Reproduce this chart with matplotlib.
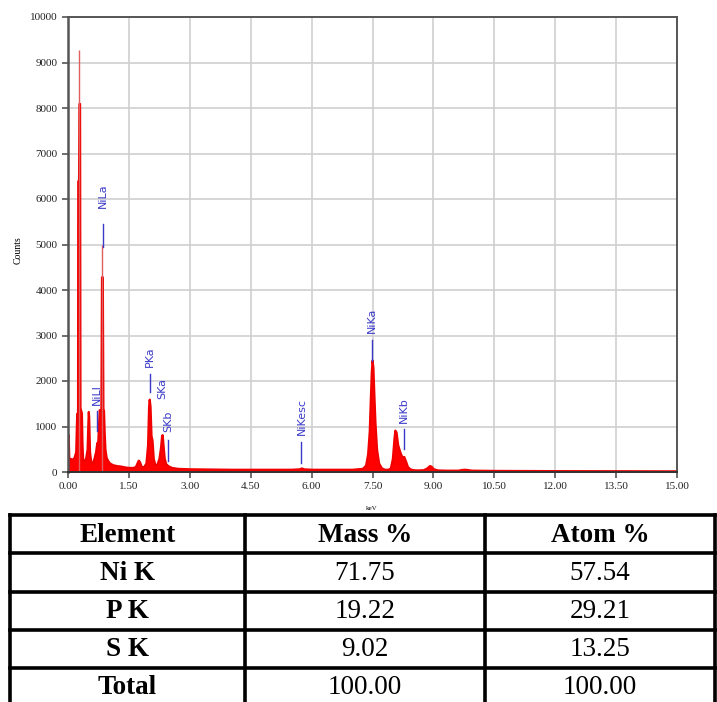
import matplotlib
matplotlib.use("Agg")
import matplotlib.pyplot as plt

# EDS spectrum (keV, counts)
energy = [0.00, 0.005, 0.02, 0.05, 0.10, 0.15, 0.19, 0.21, 0.225, 0.235, 0.24, 0.26,
          0.27, 0.285, 0.295, 0.305, 0.33, 0.345, 0.36, 0.39, 0.43, 0.47, 0.49,
          0.50, 0.51, 0.53, 0.56, 0.60, 0.64, 0.68, 0.71, 0.73, 0.75, 0.77, 0.79,
          0.81, 0.825, 0.835, 0.845, 0.86, 0.875, 0.89, 0.91, 0.94, 0.98, 1.02,
          1.10, 1.20, 1.30, 1.40, 1.50, 1.60, 1.66, 1.70, 1.73, 1.76, 1.80, 1.86,
          1.92, 1.96, 1.985, 2.00, 2.02, 2.045, 2.07, 2.10, 2.14, 2.19, 2.24, 2.28,
          2.305, 2.32, 2.34, 2.37, 2.41, 2.46, 2.55, 2.70, 3.00, 3.50, 4.00, 4.50,
          5.00, 5.50, 5.70, 5.75, 5.80, 6.00, 6.50, 7.00, 7.25, 7.33, 7.38, 7.42,
          7.45, 7.47, 7.49, 7.51, 7.53, 7.56, 7.60, 7.65, 7.72, 7.80, 7.88, 7.94,
          7.99, 8.03, 8.05, 8.08, 8.12, 8.17, 8.22, 8.27, 8.31, 8.36, 8.42, 8.50,
          8.60, 8.75, 8.84, 8.90, 8.94, 9.00, 9.10, 9.30, 9.60, 9.70, 9.76, 9.82,
          9.95, 10.50, 12.00, 13.50, 15.00]
counts = [800, 820, 260, 300, 280, 320, 450, 1150, 1300, 1100, 6400, 6400,
          8100, 8100, 1380, 1380, 1300, 600, 300, 250, 280, 500, 1100,
          1330, 1200, 450, 220, 200, 300, 450, 650, 600, 1000, 1370, 1300,
          1400, 4290, 4290, 4290, 1400, 1350, 900, 500, 320, 250, 200,
          160, 140, 130, 110, 100, 100, 120, 200, 260, 230, 130, 110,
          200, 600, 1450, 1600, 1450, 800, 700, 300, 160, 170, 300, 550,
          800, 820, 600, 300, 180, 140, 100, 80, 70, 65, 60, 60,
          60, 60, 70, 90, 70, 60, 60, 60, 80, 150, 400, 900,
          1700, 2200, 2460, 2300, 1800, 1100, 500, 200, 90, 60, 60, 90,
          300, 750, 920, 880, 600, 450, 340, 340, 250, 120, 70, 50,
          45, 50, 90, 140, 130, 70, 45, 40, 40, 55, 60, 55,
          40, 35, 30, 28, 25]

# faint single-channel tips above the strongest peaks
tip_kev = [0.28, 0.845]
tip_counts = [9270, 4990]

# line markers
line_names = ["NiLa", "NiLl", "PKa", "SKa", "SKb", "NiKesc", "NiKa", "NiKb"]
line_kev = [0.85, 0.72, 2.01, 2.31, 2.46, 5.75, 7.48, 8.27]
line_mark = [(4950, 5450), (900, 1350), (1750, 2150), None, (250, 700),
             (200, 650), (2450, 2900), (500, 950)]
label_base = [5800, 1480, 2300, 1600, 880, 820, 3050, 1080]

# table
tbl_header = ["Element", "Mass %", "Atom %"]
tbl_element = ["Ni K", "P K", "S K", "Total"]
tbl_mass = ["71.75", "19.22", "9.02", "100.00"]
tbl_atom = ["57.54", "29.21", "13.25", "100.00"]

W, H = 717, 702
fig = plt.figure(figsize=(W / 100, H / 100), dpi=100)
ax = fig.add_axes([68 / W, 1 - 472 / H, (677 - 68) / W, (472 - 17) / H])

ax.fill_between(energy, counts, 0, color="#ff0000", linewidth=1.6, edgecolor="#f00000")
ax.vlines(tip_kev, 0, tip_counts, color="#e06060", linewidth=1.0)

ax.set_xlim(0, 15)
ax.set_ylim(0, 10000)
ax.set_xticks([i * 1.5 for i in range(11)])
ax.set_xticklabels(["%.2f" % (i * 1.5) for i in range(11)])
ax.set_yticks(range(0, 10001, 1000))
ax.grid(True, color="#cfcfcf", linewidth=1.2)
ax.set_axisbelow(True)
for s in ["left", "top", "right"]:
    ax.spines[s].set_color("#555555")
ax.spines["left"].set_linewidth(1.8)
ax.spines["top"].set_linewidth(1.4)
ax.spines["right"].set_linewidth(1.4)
ax.spines["bottom"].set_color("#333333")
ax.spines["bottom"].set_linewidth(1.4)
ax.tick_params(length=4, width=1.2, color="#555555", labelcolor="#222222")
for lb in ax.get_xticklabels() + ax.get_yticklabels():
    lb.set_family("Liberation Serif")
    lb.set_fontsize(8)

blue = "#3a3ac8"
for name, e, mk, lb in zip(line_names, line_kev, line_mark, label_base):
    if mk is not None:
        ax.plot([e, e], mk, color=blue, linewidth=1.0)
    ax.text(e, lb, name, rotation=90, ha="center", va="bottom", color=blue,
            fontsize=8, family="DejaVu Sans")

fig.text(18 / W, 1 - 250 / H, "Counts", rotation=90, ha="center", va="center",
         fontsize=7, family="Liberation Serif")
fig.text(372 / W, 1 - 508 / H, "keV", ha="center", va="center", fontsize=5,
         family="Liberation Serif")

# table drawn in pixel coordinates on an overlay axes
tb = fig.add_axes([0, 0, 1, 1])
tb.set_xlim(0, W)
tb.set_ylim(H, 0)
tb.axis("off")
col_x = [10, 245, 485, 715]
row_y = [515, 553, 592, 630, 668, 705]
for y in row_y:
    tb.plot([col_x[0], col_x[-1]], [y, y], color="black", linewidth=2.6,
            solid_capstyle="projecting")
for x in col_x:
    tb.plot([x, x], [row_y[0], row_y[-1]], color="black", linewidth=2.6,
            solid_capstyle="projecting")
cx = [(col_x[i] + col_x[i + 1]) / 2 for i in range(3)]
cy = [(row_y[i] + row_y[i + 1]) / 2 + 1 for i in range(5)]
fs = 19.5
for j, t in enumerate(tbl_header):
    tb.text(cx[j], cy[0], t, ha="center", va="center", fontsize=fs,
            fontweight="bold", family="Liberation Serif")
for i in range(4):
    tb.text(cx[0], cy[i + 1], tbl_element[i], ha="center", va="center", fontsize=fs,
            fontweight="bold", family="Liberation Serif")
    tb.text(cx[1], cy[i + 1], tbl_mass[i], ha="center", va="center", fontsize=fs,
            family="Liberation Serif")
    tb.text(cx[2], cy[i + 1], tbl_atom[i], ha="center", va="center", fontsize=fs,
            family="Liberation Serif")

fig.savefig("out.png", dpi=100)
